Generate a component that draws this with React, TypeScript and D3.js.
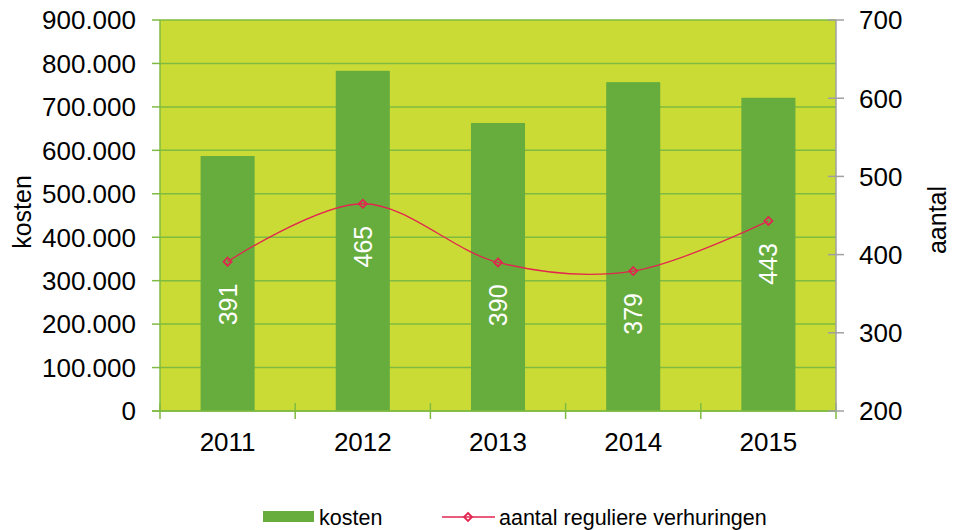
import React from "react";
import * as d3 from "d3";

const years = ["2011", "2012", "2013", "2014", "2015"];
const kosten = [587000, 783000, 663000, 757000, 721000];
const aantal = [391, 465, 390, 379, 443];
const leftTicks = [0, 100000, 200000, 300000, 400000, 500000, 600000, 700000, 800000, 900000];
const rightTicks = [200, 300, 400, 500, 600, 700];

const W = 953, H = 530;
const M = { left: 160, right: 836, top: 20, bottom: 411 };
const FONT = "Liberation Sans, Arial, sans-serif";

export default function App() {
  const x = d3.scaleBand<string>().domain(years).range([M.left, M.right]).paddingInner(0.6).paddingOuter(0.3);
  const xBand = d3.scaleBand<string>().domain(years).range([M.left, M.right]);
  const yL = d3.scaleLinear().domain([0, 900000]).range([M.bottom, M.top]);
  const yR = d3.scaleLinear().domain([200, 700]).range([M.bottom, M.top]);
  const fmt = (v: number) => (v === 0 ? "0" : d3.format(",")(v).replace(/,/g, "."));
  const pts: [number, number][] = aantal.map((v, i) => [xBand(years[i])! + xBand.bandwidth() / 2, yR(v)]);
  const line = d3.line().curve(d3.curveCatmullRom.alpha(0))(pts) || "";
  const red = "#e2264f";
  const grid = "#7fbb41";
  const diamond = (cx: number, cy: number, k: string) => (
    <path key={k} d={`M${cx},${cy - 4}L${cx + 4},${cy}L${cx},${cy + 4}L${cx - 4},${cy}Z`} fill="none" stroke={red} strokeWidth={1.8} />
  );
  return (
    <svg width={W} height={H} style={{ position: "absolute", left: 0, top: 0 }} fontFamily={FONT}>
      <rect x={0} y={0} width={W} height={H} fill="#fff" />
      <rect x={M.left} y={M.top} width={M.right - M.left} height={M.bottom - M.top} fill="#cbdb36" />
      {leftTicks.map((t) => (
        <line key={"g" + t} x1={M.left} x2={M.right} y1={yL(t)} y2={yL(t)} stroke={grid} strokeWidth={1.5} />
      ))}
      {years.map((yr, i) => (
        <rect key={yr} x={x(yr)} y={yL(kosten[i])} width={x.bandwidth()} height={M.bottom - yL(kosten[i])} fill="#66ad3d" />
      ))}
      {/* left axis */}
      <line x1={M.left} x2={M.left} y1={M.top} y2={M.bottom} stroke={grid} strokeWidth={1.5} />
      {leftTicks.map((t) => (
        <g key={"l" + t}>
          <line x1={M.left - 8} x2={M.left} y1={yL(t)} y2={yL(t)} stroke={grid} strokeWidth={1.5} />
          <text x={136} y={yL(t)} dy="0.36em" textAnchor="end" fontSize={26} fill="#000">{fmt(t)}</text>
        </g>
      ))}
      {/* bottom axis */}
      <line x1={M.left - 8} x2={M.right} y1={M.bottom} y2={M.bottom} stroke={grid} strokeWidth={1.5} />
      {[...years.map((yr) => xBand(yr)!), M.right].map((bx, i) => (
        <line key={"bt" + i} x1={bx} x2={bx} y1={M.bottom - 8} y2={M.bottom + 8} stroke={grid} strokeWidth={1.5} />
      ))}
      {years.map((yr) => (
        <text key={"yl" + yr} x={xBand(yr)! + xBand.bandwidth() / 2} y={442} dy="0.36em" textAnchor="middle" fontSize={26}>{yr}</text>
      ))}
      {/* right axis */}
      <line x1={M.right} x2={M.right} y1={M.top} y2={M.bottom} stroke="#a0a0a0" strokeWidth={1.5} />
      {rightTicks.map((t) => (
        <g key={"r" + t}>
          <line x1={M.right - 8} x2={M.right + 8} y1={yR(t)} y2={yR(t)} stroke="#a0a0a0" strokeWidth={1.5} />
          <text x={859} y={yR(t)} dy="0.36em" textAnchor="start" fontSize={26}>{t}</text>
        </g>
      ))}
      {/* line */}
      <path d={line} fill="none" stroke={red} strokeWidth={1.3} />
      {pts.map((p, i) => diamond(p[0], p[1], "d" + i))}
      {pts.map((p, i) => (
        <text key={"lab" + i} transform={`translate(${p[0] + 9},${p[1] + 22}) rotate(-90)`} textAnchor="end" fontSize={25} fill="#fff">{aantal[i]}</text>
      ))}
      {/* axis titles */}
      <text transform={`translate(31,212) rotate(-90)`} textAnchor="middle" fontSize={25}>kosten</text>
      <text transform={`translate(946,220) rotate(-90)`} textAnchor="middle" fontSize={25}>aantal</text>
      {/* legend */}
      <rect x={263} y={511} width={51} height={11} fill="#66ad3d" />
      <text x={319} y={517} dy="0.36em" fontSize={21.5}>kosten</text>
      <line x1={442} x2={495} y1={517} y2={517} stroke={red} strokeWidth={1.3} />
      {diamond(468, 517, "legd")}
      <text x={499} y={517} dy="0.36em" fontSize={21.5}>aantal reguliere verhuringen</text>
    </svg>
  );
}
